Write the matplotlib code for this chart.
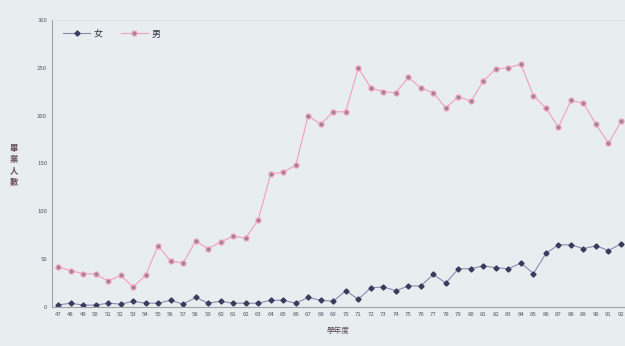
import matplotlib
matplotlib.use("Agg")
import matplotlib.pyplot as plt

plt.rcParams['font.family'] = ['Noto Sans CJK TC', 'DejaVu Sans']

years = list(range(47, 93))
female = [2, 4, 2, 2, 4, 3, 6, 4, 4, 7, 3, 10, 4, 6, 4, 4, 4, 7, 7, 4, 10, 7, 6, 17,
          8, 20, 21, 17, 22, 22, 34, 25, 40, 40, 43, 41, 40, 46, 35, 56, 65, 65, 61, 64, 59, 66]
male = [42, 38, 35, 34.5, 27, 33, 21, 33, 64, 48, 46, 69, 61, 68, 74, 72, 91, 139, 141, 148,
        200, 191, 204, 204, 250, 229, 225, 224, 240, 229, 224, 208, 220, 215, 236, 249, 250, 254,
        221, 208, 188, 216, 213, 191, 171, 194]
yticks = [0, 50, 100, 150, 200, 250, 300]
series_names = ['女', '男']
xlabel = '學年度'
ylabel = '畢\n業\n人\n數'

bg = '#e8edef'
fig = plt.figure(figsize=(6.25, 3.46), dpi=100, facecolor=bg)
ax = fig.add_axes([52/625, 1-307/346, 1-52/625, (307-20)/346])
ax.set_facecolor(bg)

ax.plot(years, female, color='#8f88b0', lw=0.8, marker='D', ms=2.6,
        mfc='#3b3b5e', mec='#3b3b5e', label=series_names[0])
ax.plot(years, male, color='#f2a0b8', lw=0.8, marker='o', ms=3.6,
        mfc='#9a8496', mec='#f5a0bb', mew=0.9, label=series_names[1])

ax.set_xlim(46.52, 92.32)
ax.set_ylim(0, 300)
ax.set_xticks(years)
ax.set_xticklabels([str(y) for y in years], fontsize=4.3, color='#555566')
ax.set_yticks(yticks)
ax.set_yticklabels([str(v) for v in yticks], fontsize=4.3, color='#555566')
ax.tick_params(axis='both', length=0, pad=3.5)

for s in ['top', 'right']:
    ax.spines[s].set_visible(False)
for s in ['left', 'bottom']:
    ax.spines[s].set_color('#a0a4a8')
    ax.spines[s].set_linewidth(0.8)
ax.axhline(300, color='#dde2e4', lw=0.8, zorder=0)

ax.set_xlabel(xlabel, fontsize=5.5, color='#5a4a5a', labelpad=7)
fig.text(14/625, 1-165/346, ylabel, fontsize=6, color='#6a4a5e', ha='center', va='center',
         linespacing=1.3, fontweight='bold')

leg = ax.legend(loc='upper left', bbox_to_anchor=(0.005, 0.995), ncol=2, frameon=False,
                fontsize=6.5, handlelength=3.0, columnspacing=2.0, handletextpad=0.4)
for t in leg.get_texts():
    t.set_color('#333344')

fig.savefig('out.png', dpi=100, facecolor=bg)
